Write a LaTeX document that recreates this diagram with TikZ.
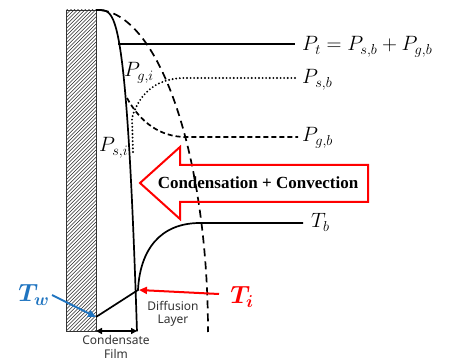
\documentclass[tikz,border=0pt]{standalone}
\usepackage{amsmath}
\usepackage{fontspec}
\setmainfont{Liberation Serif}
\newfontfamily\labelsans{Noto Sans}
\usetikzlibrary{arrows.meta}
\definecolor{twblue}{HTML}{1F74C0}
\definecolor{tired}{HTML}{FF0000}
\begin{document}
\begin{tikzpicture}[x=1pt,y=-1pt,
  curve/.style={line width=1.7pt},
  bigdash/.style={line width=1.7pt, dash pattern=on 8pt off 5pt},
  smalldash/.style={line width=1.7pt, dash pattern=on 5pt off 3pt},
  dotline/.style={line width=2.1pt, dash pattern=on 0pt off 3.6pt, line cap=round},
  mathlbl/.style={font=\fontsize{21}{24}\selectfont, inner sep=0pt, anchor=base west},
  sanslbl/.style={font=\labelsans\fontsize{12}{13.5}\selectfont, align=center, inner sep=0pt, text=black!80},
  bigT/.style={font=\fontsize{23}{25}\selectfont, inner sep=0pt},
]
\useasboundingbox (0,0) rectangle (458,363);

% wall with hatching
\begin{scope}
  \clip (66,10) rectangle (96,331);
  \foreach \c in {0,3.6,...,370} {
    \draw[line width=0.55pt, black!85] (66,\c) -- (96,\c-30);
  }
\end{scope}
\draw[line width=0.7pt, black!80] (66,10) rectangle (96,331);

% named points
\coordinate (wallTop) at (96,10);
\coordinate (wallLow) at (96,317);
\coordinate (interfaceT) at (138,290);
\coordinate (filmBot) at (137,331);
\coordinate (wallBot) at (96,331);

% condensate film boundary
\draw[curve] plot[domain=0:1, samples=90, variable=\s] ({96+41*\s}, {10+322*\s^4});

% diffusion layer boundary (dashed ellipse)
\draw[bigdash] plot[domain=88:0, samples=90, variable=\t] ({97+111*cos(\t)}, {332-322*sin(\t)});

% total pressure
\coordinate (ptA) at (118,44);
\node[mathlbl] (pt) at (302,51) {$P_t = P_{s,b} + P_{g,b}$};
\draw[curve] (ptA) -- ([xshift=-7pt]pt.west |- ptA);
% vapour partial pressure (dotted)
\node[mathlbl] (psb) at (302,84) {$P_{s,b}$};
\coordinate (psStart) at (133,152);
\coordinate (psFlat) at (185,78);
\draw[dotline] (psStart) -- (132,118) .. controls (140,90) and (160,78) .. (psFlat) -- ([xshift=-4pt]psb.west |- psFlat);
% gas partial pressure (dashed)
\node[mathlbl] (pgb) at (302,142) {$P_{g,b}$};
\coordinate (pgStart) at (127,98);
\coordinate (pgFlat) at (186,137);
\draw[smalldash] (pgStart) .. controls (140,122) and (160,137) .. (pgFlat) -- ([xshift=-4pt]pgb.west |- pgFlat);

\node[mathlbl] (pgi) at (124,77) {$P_{g,i}$};
\node[mathlbl] (psi) at (99,152) {$P_{s,i}$};

% temperature profile
\coordinate (tbFlat) at (200,223);
\node[mathlbl] (tb) at (311,228) {$T_b$};
\draw[curve] (wallLow) -- (interfaceT) .. controls (140,250) and (160,223) .. (tbFlat) -- ([xshift=-8pt]tb.west |- tbFlat);

% condensation + convection block arrow
\draw[tired, line width=2pt, line join=miter]
  (140,183) -- (180,147) -- (180,165) -- (368,165) -- (368,202) -- (180,202) -- (180,219) -- cycle;
\node[font=\bfseries\fontsize{17}{19}\selectfont, inner sep=0pt] (cc) at (258,183) {Condensation + Convection};

% film thickness dimension
\draw[line width=1.4pt, {Triangle[length=6pt,width=6pt]}-{Triangle[length=6pt,width=6pt]}] (wallBot) -- (filmBot);
\node[sanslbl] (cfilm) at (116,347) {Condensate\\Film};
\node[sanslbl] (dlayer) at (173,314) {Diffusion\\Layer};

% T_w
\node[bigT, text=twblue] (tw) at (34,295) {$\boldsymbol{T_w}$};
\coordinate (twTail) at (52,295);
\draw[twblue, line width=2pt, -{Triangle[length=8pt,width=7pt]}] (twTail) -- (wallLow);

% T_i
\node[bigT, text=tired] (ti) at (242,297) {$\boldsymbol{T_i}$};
\coordinate (tiTail) at (219,294);
\draw[tired, line width=2pt, -{Triangle[length=8pt,width=7pt]}] (tiTail) -- (139,290);
\end{tikzpicture}
\end{document}
